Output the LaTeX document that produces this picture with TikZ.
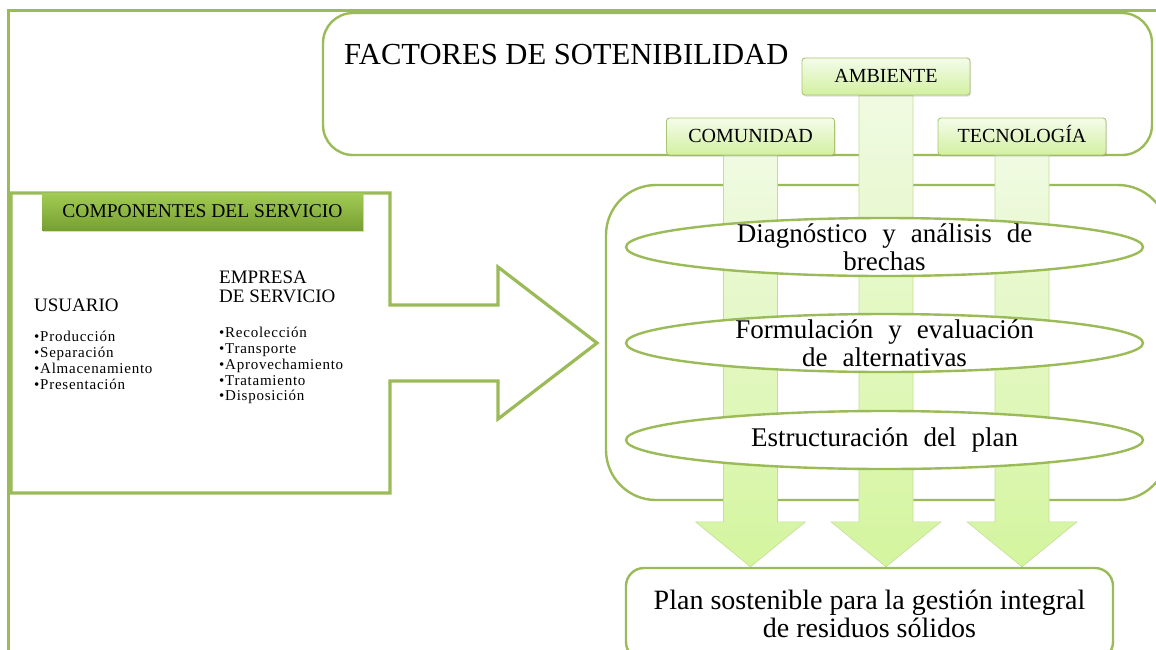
\documentclass[tikz,border=0pt]{standalone}
\usepackage{fontspec}
\setmainfont{Liberation Serif}
\newfontfamily\spacedfont[LetterSpace=5]{Liberation Serif}
\usetikzlibrary{shapes.geometric, positioning, calc, shadows}
\definecolor{office_green}{HTML}{9BBB59}
\colorlet{olgreen}{office_green}
\definecolor{labeltop}{HTML}{F5FCEB}
\definecolor{labelbot}{HTML}{D2F0A0}
\definecolor{bartop}{HTML}{F0FAE2}
\definecolor{barbot}{HTML}{D4F59E}
\definecolor{barline}{HTML}{C2DF98}
\definecolor{headtop}{HTML}{A2CB55}
\definecolor{headbot}{HTML}{77A032}
\newcommand{\widespaces}{\spaceskip=15pt plus 2pt\relax}
\tikzset{
  frameline/.style={draw=olgreen,line width=3pt},
  bigbox/.style={rectangle,draw=olgreen,line width=2.4pt,fill=white},
  compline/.style={draw=olgreen,line width=3.2pt,fill=white,line join=miter},
  headbox/.style={rectangle,top color=headtop,bottom color=headbot,draw=none,minimum width=321pt,minimum height=37pt,font=\fontsize{19.5}{20}\selectfont,drop shadow={shadow xshift=1pt,shadow yshift=-2pt,opacity=.3}},
  factor/.style={rectangle,rounded corners=3pt,draw=olgreen!85,line width=0.9pt,top color=labeltop,bottom color=labelbot,minimum width=168pt,minimum height=37pt,text height=13pt,text depth=2pt,font=\fontsize{20}{20}\selectfont,drop shadow={shadow xshift=1pt,shadow yshift=-1.5pt,opacity=.25}},
  stage/.style={ellipse,draw=olgreen,line width=2.4pt,fill=white,minimum width=517pt,minimum height=58pt,inner xsep=0pt,inner ysep=-14pt,align=center,font=\fontsize{27}{28}\selectfont\widespaces},
  result/.style={rectangle,rounded corners=18pt,draw=olgreen,line width=2.4pt,fill=white,minimum width=487pt,minimum height=92pt,align=center,font=\fontsize{28}{28}\selectfont},
  heading/.style={font=\fontsize{19}{19}\selectfont,align=left,inner sep=0pt},
  items/.style={font=\spacedfont\fontsize{15}{15.8}\selectfont,align=left,inner sep=0pt},
  bigarrow/.style={line width=0.6pt,draw=barline,top color=bartop,bottom color=barbot,
    to path={let \p1=(\tikztostart), \p2=(\tikztotarget) in
      (\x1-27pt,\y1) -- (\x1-27pt,\y2+45pt) -- (\x1-55pt,\y2+45pt) -- (\x1,\y2)
      -- (\x1+55pt,\y2+45pt) -- (\x1+27pt,\y2+45pt) -- (\x1+27pt,\y1) -- cycle}},
}
\pgfdeclarelayer{back}
\pgfdeclarelayer{mid}
\pgfsetlayers{back,mid,main}

\begin{document}
\begin{tikzpicture}[x=1pt,y=-1pt]
	\useasboundingbox (0,0) rectangle (1156,649);
	\draw[frameline] (8,652) -- (8,10) -- (1160,10);
	\begin{pgfonlayer}{back}
	    \node[bigbox,rounded corners=30pt,minimum width=829pt,minimum height=142pt] (factores) at (737.5,84) {};
	    \node[bigbox,rounded corners=50pt,minimum width=562pt,minimum height=315pt] (proceso) at (887,342.5) {};
	\end{pgfonlayer}
	\node[anchor=west,inner sep=0pt,font=\fontsize{30.6}{32}\selectfont] (titulo) at (344,55) {FACTORES DE SOTENIBILIDAD};
	\node[factor] (amb) at (886,76.5) {AMBIENTE};
	\node[factor] (com) at (750.5,136.5) {COMUNIDAD};
	\node[factor] (tec) at (1022,136.5) {TECNOLOGÍA};
	\node[stage] (diag) at (884.5,247) {Diagnóstico y análisis de\\brechas};
	\node[stage] (form) at (884.5,343) {Formulación y evaluación\\de alternativas};
	\node[stage] (estr) at (884.5,440) {Estructuración del plan};
	\node[result] (plan) at (869.5,614) {Plan sostenible para la gestión integral\\de residuos sólidos};
	\begin{pgfonlayer}{mid}
	    \draw[bigarrow] (com.south) to (com.south |- plan.north);
	    \draw[bigarrow] (amb.south) to (amb.south |- plan.north);
	    \draw[bigarrow] (tec.south) to (tec.south |- plan.north);
	\end{pgfonlayer}
	\draw[compline] (11,193) -- (390,193) -- (390,305) -- (498,305) -- (498,267) -- (597,343)
	    -- (498,419) -- (498,381) -- (390,381) -- (390,493) -- (11,493) -- cycle;
	\node[headbox] (compHead) at (202.5,211.5) {COMPONENTES DEL SERVICIO};
	\node[heading,anchor=west] (usuario) at (34,305) {USUARIO};
	\node[items,anchor=north west] (usuLista) at (34,331) {•Producción\\•Separación\\•Almacenamiento\\•Presentación};
	\node[heading,anchor=north west] (empresa) at (219,271) {EMPRESA\\DE SERVICIO};
	\node[items,anchor=north west] (empLista) at (219,327) {•Recolección\\•Transporte\\•Aprovechamiento\\•Tratamiento\\•Disposición};
\end{tikzpicture}
\end{document}
